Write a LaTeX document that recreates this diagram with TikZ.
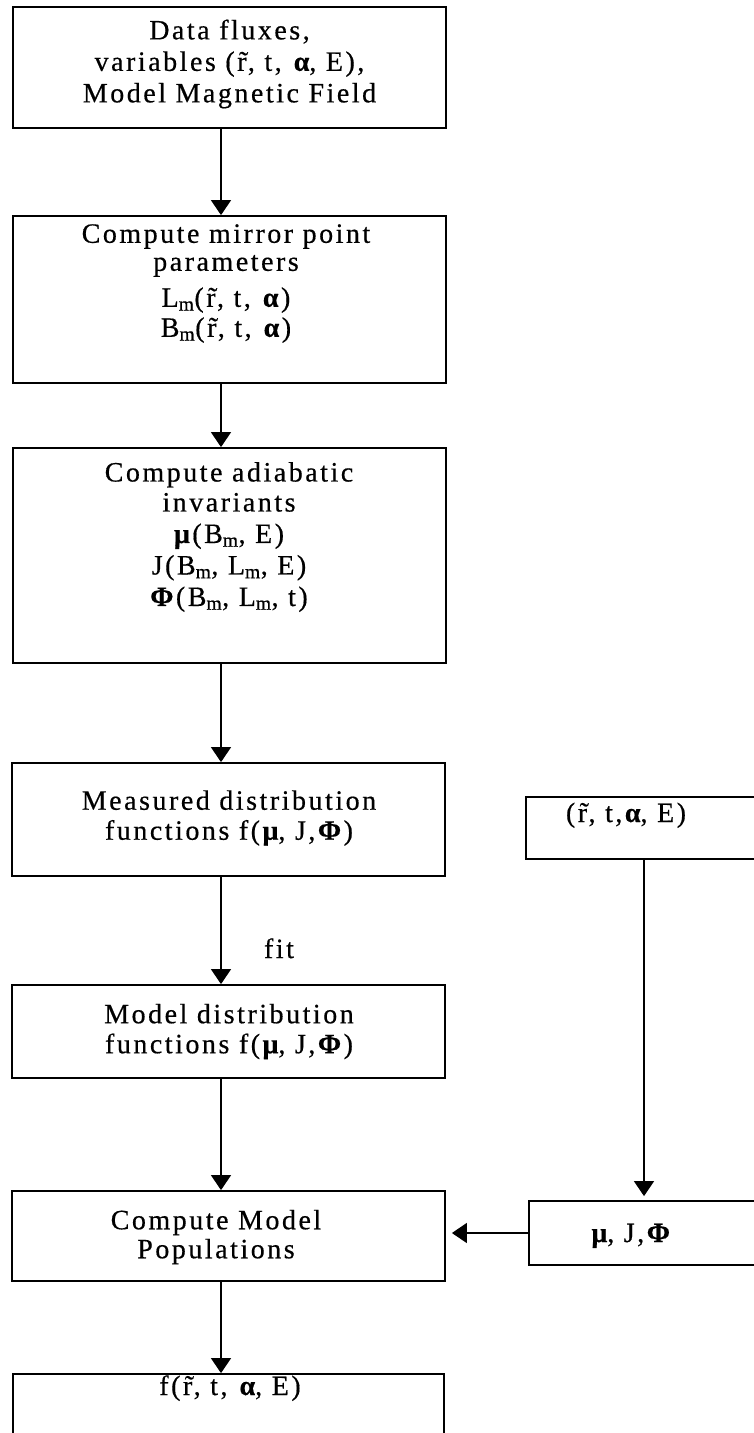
\documentclass[tikz,border=0pt]{standalone}
\usepackage{fontspec}
\setmainfont{Liberation Serif}[LetterSpace=9, FakeBold=0.5]
\usetikzlibrary{arrows.meta}
\begin{document}
\begin{tikzpicture}[x=1pt,y=-1pt,
  box/.style={draw, line width=1.8pt, inner sep=0pt},
  txt/.style={inner sep=0pt, align=center, font=\fontsize{28}{31}\selectfont},
  conn/.style={line width=1.4pt, -{Triangle[length=15pt,width=20pt]}}]
\useasboundingbox (0,0) rectangle (753,1433);
\coordinate (ax) at (221,0);
\coordinate (bx) at (644,0);
% boxes
\node[box, minimum width=433pt, minimum height=121pt] (b1) at (229.5,67.5) {};
\node[box, minimum width=433pt, minimum height=167pt] (b2) at (229.5,299.5) {};
\node[box, minimum width=433pt, minimum height=215pt] (b3) at (229.5,555.5) {};
\node[box, minimum width=433pt, minimum height=113pt] (b4) at (228.5,819.5) {};
\node[box, minimum width=433pt, minimum height=93pt] (b5) at (228.5,1031.5) {};
\node[box, minimum width=433pt, minimum height=90pt] (b6) at (228.5,1236) {};
\node[box, minimum width=431pt, minimum height=96pt] (b7) at (228.5,1422) {};
\node[box, minimum width=264pt, minimum height=62pt] (ra) at (658,828) {};
\node[box, minimum width=261pt, minimum height=64pt] (rm) at (659.5,1233) {};
% texts
\node[txt, font=\fontsize{28}{31.5}\selectfont] (t1) at (229.5,64)
  {Data fluxes,\\variables (\~r, t, \textbf{α}, E),\\Model Magnetic Field};
\node[txt, font=\fontsize{28}{30}\selectfont] (t2) at (226,283.5)
  {Compute mirror point\\[-2pt]parameters\\[6pt]L\textsubscript{m}(\~r, t, \textbf{α})\\B\textsubscript{m}(\~r, t, \textbf{α})};
\node[txt, font=\fontsize{28}{31.5}\selectfont] (t3) at (229,537)
  {Compute adiabatic\\[-1.5pt]invariants\\\textbf{μ}(B\textsubscript{m}, E)\\J(B\textsubscript{m}, L\textsubscript{m}, E)\\\textbf{Φ}(B\textsubscript{m}, L\textsubscript{m}, t)};
\node[txt, font=\fontsize{28}{30}\selectfont] (t4) at (229,818)
  {Measured distribution\\functions f(\textbf{μ}, J,\textbf{Φ})};
\node[txt, anchor=base] (fit) at (279,958) {fit};
\node[txt, font=\fontsize{28}{30}\selectfont] (t5) at (229,1031.5)
  {Model distribution\\functions f(\textbf{μ}, J,\textbf{Φ})};
\node[txt, font=\fontsize{28}{29}\selectfont] (t6) at (216,1237)
  {Compute Model\\Populations};
\node[txt, anchor=base] (ta) at (626,822) {(\~r, t,\textbf{α}, E)};
\node[txt, anchor=base] (tm) at (632,1242) {\textbf{μ}, J,\textbf{Φ}};
\node[txt, anchor=base] (tf) at (230,1395) {f(\~r, t, \textbf{α}, E)};
% connectors
\draw[conn] (b1.south -| ax) -- (b2.north -| ax);
\draw[conn] (b2.south -| ax) -- (b3.north -| ax);
\draw[conn] (b3.south -| ax) -- (b4.north -| ax);
\draw[conn] (b4.south -| ax) -- (b5.north -| ax);
\draw[conn] (b5.south -| ax) -- (b6.north -| ax);
\draw[conn] (b6.south -| ax) -- (b7.north -| ax);
\draw[conn, shorten >=4pt] (ra.south -| bx) -- (rm.north -| bx);
\draw[conn, shorten >=6pt] (rm.west) -- (rm.west -| b6.east);
\end{tikzpicture}
\end{document}
